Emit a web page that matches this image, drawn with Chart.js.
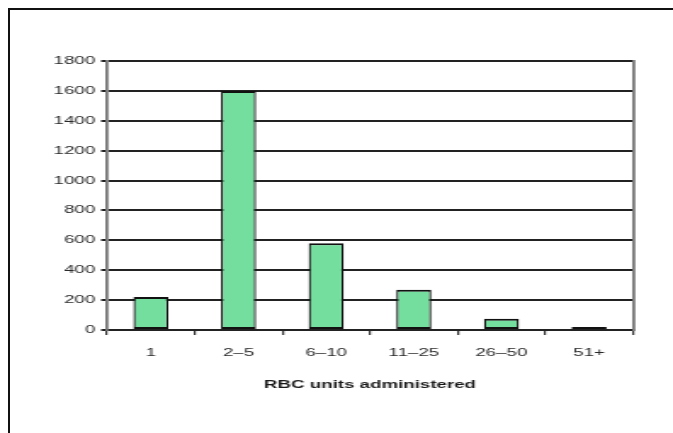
<!DOCTYPE html>
<html>
<head>
<meta charset="utf-8">
<script src="https://cdn.jsdelivr.net/npm/chart.js@4/dist/chart.umd.min.js"></script>
<style>
  html, body { margin: 0; padding: 0; background: #fff; }
  #wrap { position: relative; width: 673px; height: 433px; overflow: hidden; }
  #frame { position: absolute; left: 8px; top: 8px; width: 700px; height: 500px;
           border-top: 2px solid #111; border-left: 2px solid #111; }
  /* the chart is drawn on a narrow canvas and widened, giving the wide lettering */
  #c { position: absolute; left: 0; top: 0; width: 673px !important; height: 433px !important; }
</style>
</head>
<body>
<div id="wrap">
  <div id="frame"></div>
  <canvas id="c" width="396" height="433"></canvas>
</div>
<script>
// Red blood cell units given per patient, grouped into ranges
const categories = ['1', '2\u20135', '6\u201310', '11\u201325', '26\u201350', '51+'];
const patients = [220, 1600, 580, 270, 75, 20];
const yTicks = [0, 200, 400, 600, 800, 1000, 1200, 1400, 1600, 1800];
const xTitle = 'RBC units administered';

const font = { family: 'Liberation Sans, Arial, sans-serif', size: 11 };

new Chart(document.getElementById('c'), {
  type: 'bar',
  data: {
    labels: categories,
    datasets: [{
      data: patients,
      backgroundColor: '#73de9e',
      borderColor: '#111',
      borderWidth: { top: 2, bottom: 2, left: 1.3, right: 1.3 },
      borderSkipped: false,
      barPercentage: 0.4,
      categoryPercentage: 1.0
    }]
  },
  options: {
    responsive: false,
    devicePixelRatio: 1,
    animation: false,
    layout: { padding: { top: 61, right: 23.6, bottom: 37, left: 0 } },
    plugins: { legend: { display: false }, tooltip: { enabled: false } },
    scales: {
      x: {
        offset: true,
        grid: { offset: true, drawOnChartArea: false, drawTicks: true, tickLength: 5,
                color: '#333', lineWidth: 1.2 },
        border: { color: '#222', width: 2 },
        ticks: { color: '#2a2a2a', font: font, padding: 11, maxRotation: 0 },
        title: { display: true, text: xTitle, color: '#1a1a1a',
                 font: { family: font.family, size: 11, weight: 'bold' },
                 padding: { top: 4, bottom: 4 } },
        afterFit: s => { s.height = 66; }
      },
      y: {
        min: 0, max: 1800,
        afterBuildTicks: s => { s.ticks = yTicks.map(v => ({ value: v })); },
        grid: { color: '#222', lineWidth: 2, tickLength: 3.5 },
        border: { color: '#777', width: 1.8 },
        ticks: { color: '#2a2a2a', font: font, padding: 3.5, callback: v => String(v) },
        afterFit: s => { s.width = 63; }
      },
      y2: {
        position: 'right',
        min: 0, max: 1800,
        grid: { drawOnChartArea: false, drawTicks: false },
        border: { color: '#777', width: 1.8 },
        ticks: { display: false },
        afterFit: s => { s.width = 0; }
      }
    }
  }
});
</script>
</body>
</html>
